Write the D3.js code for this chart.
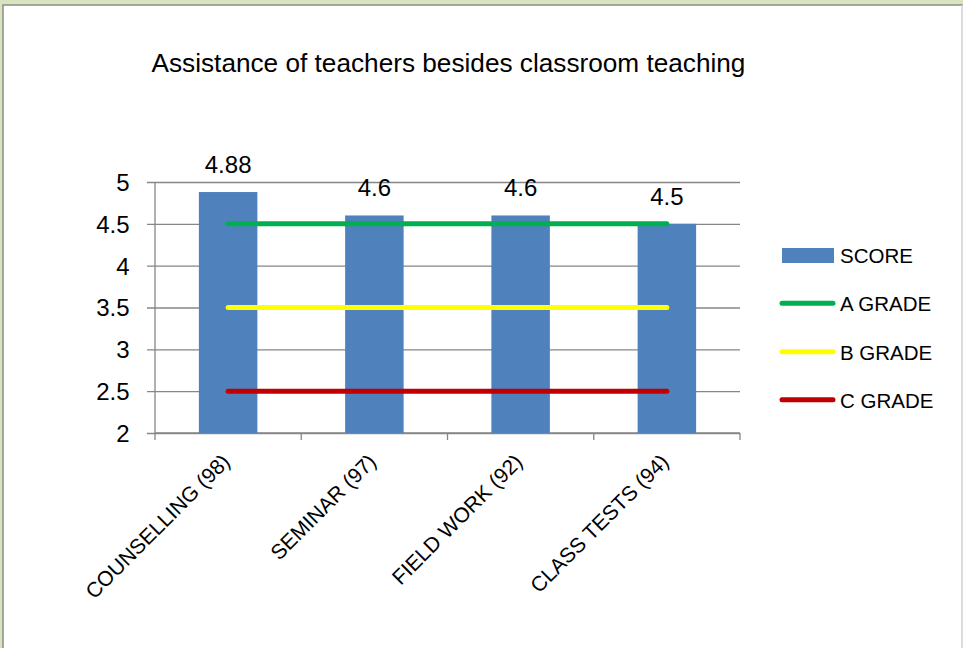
<!DOCTYPE html>
<html><head><meta charset="utf-8">
<script src="https://cdn.jsdelivr.net/npm/d3@7"></script>
<style>
html,body{margin:0;padding:0;background:#d7e4bd;}
svg{display:block;}
text{font-family:"Liberation Sans",Arial,sans-serif;fill:#000;}
</style></head>
<body>
<svg id="chart" width="963" height="648"></svg>
<script>
const title = "Assistance of teachers besides classroom teaching";
const categories = ["COUNSELLING (98)", "SEMINAR (97)", "FIELD WORK (92)", "CLASS TESTS (94)"];
const score = [4.88, 4.6, 4.6, 4.5];
const aGrade = [4.5, 4.5, 4.5, 4.5];
const bGrade = [3.5, 3.5, 3.5, 3.5];
const cGrade = [2.5, 2.5, 2.5, 2.5];
const yTicks = [2, 2.5, 3, 3.5, 4, 4.5, 5];
const seriesNames = ["SCORE", "A GRADE", "B GRADE", "C GRADE"];
const colors = {bar:"#4f81bd", a:"#00b050", b:"#ffff00", c:"#c00000", grid:"#868686"};

(function(){
const FONT = "Liberation Sans, Arial, sans-serif";
const svg = d3.select("#chart");
// frame
svg.append("rect").attr("x",3).attr("y",5).attr("width",963).attr("height",650)
  .attr("fill","#fff").attr("stroke","#8c8c8c").attr("stroke-width",1.5);
svg.append("line").attr("x1",962).attr("x2",962).attr("y1",5).attr("y2",648)
  .attr("stroke","#d0d0d0").attr("stroke-width",1.5);

const pL = 155, pR = 740, pT = 182, pB = 433;
const x = d3.scaleBand().domain(categories).range([pL, pR]).padding(0);
const y = d3.scaleLinear().domain([2, 5]).range([pB, pT]);

svg.append("text").attr("x", 448.5).attr("y", 72).attr("text-anchor","middle")
  .style("font-size","26.2px").text(title);

// gridlines + y labels
const yAxis = d3.axisLeft(y).tickValues(yTicks).tickSize(-(pR-pL)).tickPadding(25.5).tickFormat(d3.format("~g"));
const gy = svg.append("g").attr("transform",`translate(${pL},0)`).call(yAxis);
gy.select(".domain").remove();
gy.selectAll(".tick line").attr("stroke",colors.grid).attr("stroke-width",1.3).attr("x1",-8);
gy.selectAll(".tick text").style("font-size","24px").style("font-family",FONT).attr("fill","#000").attr("dy","0.35em");
svg.append("line").attr("x1",pL).attr("x2",pL).attr("y1",pT).attr("y2",pB)
  .attr("stroke",colors.grid).attr("stroke-width",1.3);

// x axis
const gx = svg.append("g").attr("transform",`translate(0,${pB})`);
gx.append("line").attr("x1",pL).attr("x2",pR).attr("stroke",colors.grid).attr("stroke-width",1.3);
const bounds = categories.map(c => x(c)).concat([x(categories[categories.length-1]) + x.bandwidth()]);
gx.selectAll("line.tk").data(bounds).join("line").attr("class","tk")
  .attr("x1",d=>d).attr("x2",d=>d).attr("y1",0).attr("y2",7)
  .attr("stroke",colors.grid).attr("stroke-width",1.3);
gx.selectAll("text").data(categories).join("text")
  .attr("transform", d => `translate(${x(d)+x.bandwidth()/2+3},${30}) rotate(-45)`)
  .attr("text-anchor","end").style("font-size","21px").text(d => d);

// bars
const bw = x.bandwidth()*0.4;
svg.selectAll("rect.bar").data(score).join("rect").attr("class","bar")
  .attr("x",(d,i)=>x(categories[i]) + (x.bandwidth()-bw)/2)
  .attr("width",bw).attr("y",d=>y(d)).attr("height",d=>pB-y(d)).attr("fill",colors.bar);
svg.selectAll("text.lbl").data(score).join("text").attr("class","lbl")
  .attr("x",(d,i)=>x(categories[i])+x.bandwidth()/2).attr("y",d=>y(d)-19)
  .attr("text-anchor","middle").style("font-size","24px").text(d=>d);

// grade lines
const line = d3.line().x((d,i)=>x(categories[i])+x.bandwidth()/2).y(d=>y(d));
[[aGrade,colors.a],[bGrade,colors.b],[cGrade,colors.c]].forEach(([arr,col])=>{
  svg.append("path").datum(arr).attr("d",line).attr("fill","none").attr("stroke",col)
    .attr("stroke-width",5).attr("stroke-linecap","round");
});

// legend
const lg = svg.append("g");
const ly = [256, 304, 352.5, 400.5];
lg.append("rect").attr("x",782).attr("y",248).attr("width",52).attr("height",15).attr("fill",colors.bar);
[colors.a, colors.b, colors.c].forEach((c,i)=>{
  lg.append("line").attr("x1",782).attr("x2",833).attr("y1",ly[i+1]-0.8).attr("y2",ly[i+1]-0.8)
    .attr("stroke",c).attr("stroke-width",5).attr("stroke-linecap","round");
});
lg.selectAll("text").data(seriesNames).join("text").attr("x",840).attr("y",(d,i)=>ly[i])
  .attr("dy","0.35em").style("font-size","20.5px").text(d=>d);
})();
</script>
</body></html>
